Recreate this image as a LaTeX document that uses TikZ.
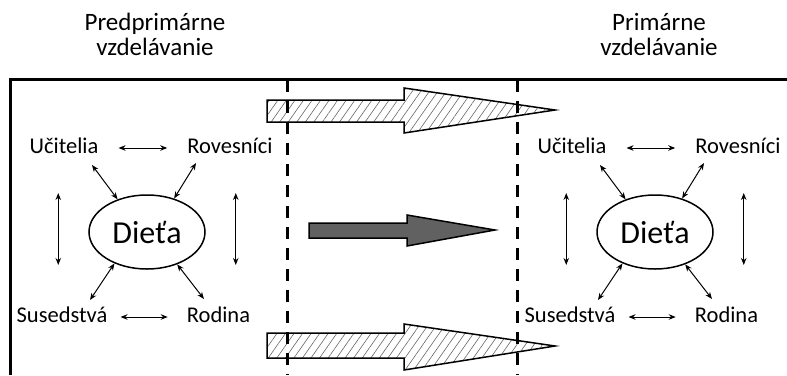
\documentclass[tikz,border=0pt]{standalone}
\usepackage{fontspec}
\setmainfont{Carlito}
\usetikzlibrary{arrows.meta,patterns.meta,shapes.geometric}

\tikzset{
  frameline/.style={line width=3pt},
  phaseline/.style={line width=3pt, dash pattern=on 12pt off 9pt},
  bigarrow/.style={line width=1.5pt, line join=miter},
  hatched/.style={bigarrow, pattern={Lines[angle=55,distance=7pt,line width=0.6pt]}, pattern color=black!60},
  solidarrow/.style={bigarrow, fill=black!62},
  label/.style={font=\fontsize{22.5}{24}\selectfont, inner sep=0pt, text height=16pt, text depth=5pt},
  child/.style={ellipse, draw, line width=1.5pt, minimum width=116pt, minimum height=74pt,
                inner sep=0pt, font=\fontsize{32}{34}\selectfont},
  title/.style={font=\fontsize{25}{25}\selectfont, align=center, inner sep=0pt, anchor=base},
  link/.style={line width=1pt, {Stealth[length=7pt,width=5.5pt]}-{Stealth[length=7pt,width=5.5pt]}},
}

\begin{document}
\begin{tikzpicture}[x=1pt, y=-1pt]
  \useasboundingbox (0,0) rectangle (787,375);

  % headings (base anchor sits on the last line)
  \node[title] (pre) at (155,55) {Predprimárne\\vzdelávanie};
  \node[title] (pri) at (659,55) {Primárne\\vzdelávanie};

  % frame: top rule and left edge
  \draw[frameline] (10,375) -- (10,79) -- (787,79);

  % transition arrows
  \draw[hatched] (267,100) -- (404,100) -- (404,88) -- (555,110) -- (404,133)
                 -- (404,122) -- (267,122) -- cycle;
  \draw[hatched] (267,333) -- (404,333) -- (404,324) -- (555,346) -- (404,370)
                 -- (404,358) -- (267,358) -- cycle;
  \draw[solidarrow] (309,223) -- (407,223) -- (407,215) -- (495,230) -- (407,246)
                    -- (407,238) -- (309,238) -- cycle;

  % phase boundaries
  \draw[phaseline] (287,80) -- (287,375);
  \draw[phaseline] (517,80) -- (517,375);

  % the child's environment, once per phase
  \foreach \g/\cx in {L/147, R/655} {
    \begin{scope}[shift={(\cx,232)}]
      \node[child] (d\g) at (0,0) {Dieťa};
      \node[label] (u\g) at (-83,-84) {Učitelia};
      \node[label] (r\g) at (83,-84) {Rovesníci};
      \node[label] (s\g) at (-85,85) {Susedstvá};
      \node[label] (o\g) at (71.5,85) {Rodina};

      \draw[link, shorten <=20pt, shorten >=20pt] (u\g.east) -- (r\g.west);
      \draw[link, shorten <=13pt, shorten >=19pt] (s\g.east) -- (o\g.west);

      \draw[link] ([xshift=-30pt,yshift=39pt]d\g.west) -- ([xshift=-30pt,yshift=-33pt]d\g.west);
      \draw[link] ([xshift=30pt,yshift=39pt]d\g.east) -- ([xshift=30pt,yshift=-33pt]d\g.east);

      \draw[link] ([xshift=28pt,yshift=-17pt]u\g.center) -- (d\g.132);
      \draw[link] ([xshift=-34pt,yshift=-15pt]r\g.center) -- (d\g.51);
      \draw[link] ([xshift=28pt,yshift=17pt]s\g.center) -- (d\g.224);
      \draw[link] ([xshift=-14.5pt,yshift=18pt]o\g.center) -- (d\g.313);
    \end{scope}
  }
\end{tikzpicture}
\end{document}
